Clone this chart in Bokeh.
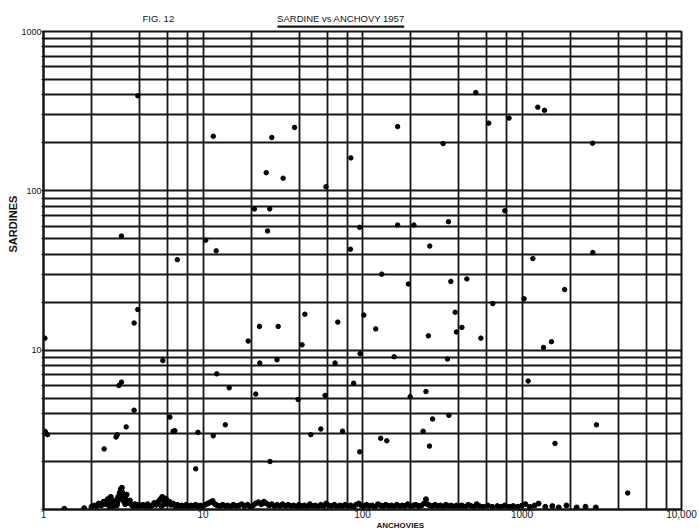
from bokeh.plotting import figure
from bokeh.models import FixedTicker, Title
from bokeh.embed import file_html
from bokeh.resources import INLINE

# ---- scattered points ----
anchovies = [3.9, 11.6, 27, 37.5, 24.9, 31.8, 59, 21, 26.2, 3.08, 25.4, 10.4, 12.1, 6.9, 84, 84.5, 96,
             3.9, 3.7, 1.02, 5.6, 3.08, 2.97, 3.7, 3.3, 2.9, 2.85, 2.4,
             1.0, 1.03, 1.06, 1.02,
             6.2, 6.5, 6.66, 9.3, 11.6, 13.8, 14.6, 12.2, 9.0, 19.2, 22.6, 29.6, 22.7, 29.1, 21.4, 26.3,
             39.5, 43.5, 41.8, 58.3, 54.8, 47.4, 70, 67.3, 75, 88, 96, 96.6,
             513, 1256, 1384, 166, 619, 830, 320, 2770, 780, 166, 210, 346, 264, 2780, 1170,
             132, 194, 358, 451, 1850, 1030, 656, 102, 121, 381, 420, 388, 259, 552, 1364, 1530,
             158, 341, 1093, 250, 199, 275, 348, 240, 130, 142, 263, 2930, 1610, 4600]
sardines = [395, 220, 216, 250, 130, 120, 106, 77, 77, 52, 56, 49, 42, 37, 43, 161, 59,
            18, 14.8, 11.9, 8.6, 6.3, 6.0, 4.2, 3.3, 2.95, 2.85, 2.4,
            3.0, 3.05, 2.95, 3.1,
            3.8, 3.1, 3.12, 3.05, 2.9, 3.4, 5.8, 7.1, 1.8, 11.4, 14.1, 14.1, 8.3, 8.7, 5.3, 2.0,
            4.9, 16.8, 10.8, 5.2, 3.2, 2.95, 15, 8.3, 3.1, 6.2, 2.3, 9.5,
            414, 335, 320, 253, 266, 286, 198, 199, 75, 61, 61, 64, 45, 41, 37.6,
            30, 26, 27, 28, 24, 21, 19.6, 16.6, 13.6, 17.3, 13.9, 13, 12.3, 11.9, 10.4, 11.3,
            9.1, 8.8, 6.4, 5.5, 5.1, 3.7, 3.9, 3.1, 2.8, 2.7, 2.5, 3.4, 2.6, 1.27]

# ---- points piled up along the bottom line ----
floor_anchovies = [
    1.35, 1.8,
    2.0, 2.08, 2.15, 2.22, 2.3, 2.38, 2.45, 2.52, 2.58, 2.64,
    2.7, 2.76, 2.82, 2.88, 2.94, 3.0, 3.05, 3.1, 3.15, 3.2,
    3.26, 3.32, 3.4, 3.48, 3.56, 3.65, 3.75, 3.85, 3.95, 4.05,
    4.2, 4.35, 4.5, 4.65, 4.8, 4.95, 5.1, 5.25, 5.4, 5.55,
    5.7, 5.85, 6.0, 6.15, 6.3, 6.5, 6.7, 6.9, 7.1, 7.35,
    7.6, 7.85, 8.1, 8.4, 8.7, 9.0, 9.3, 9.6, 9.9, 10.3,
    10.7, 11.1, 11.5, 11.9, 12.3, 12.8, 13.3, 13.8, 14.3, 14.9,
    15.5, 16.1, 16.8, 17.5, 18.2, 19, 19.8, 20.6, 21.4, 22.3,
    23.2, 24.1, 25, 26, 27, 28.1, 29.2, 30.4, 31.6, 32.9,
    34.2, 35.6, 37, 38.5, 40, 41.6, 43.3, 45, 46.8, 48.7,
    50.6, 52.6, 54.7, 56.9, 59.2, 61.6, 64, 66.6, 69.3, 72,
    74.9, 77.9, 81, 84.2, 87.6, 91.1, 94.7, 98.5, 102, 106,
    110, 115, 120, 125, 130, 135, 140, 146, 152, 158,
    164, 171, 178, 185, 192, 200, 208, 216, 225, 234,
    243, 250, 256, 264, 274, 285, 296, 308, 320, 333,
    346, 360, 374, 389, 405, 420, 440, 460, 480, 500,
    520, 540, 570, 610, 650, 700, 740, 780, 830, 880,
    940, 1000, 1050, 1120, 1200, 1270, 1400, 1550, 1700, 1900,
    2200, 2500, 2900,
    2.6, 2.75, 2.9, 3.0, 3.12, 3.25, 5.5, 5.75]
floor_sardines = [
    1.01, 1.02,
    1.04, 1.06, 1.05, 1.09, 1.06, 1.12, 1.08, 1.16, 1.1, 1.2,
    1.12, 1.08, 1.14, 1.06, 1.2, 1.27, 1.34, 1.37, 1.22, 1.12,
    1.17, 1.24, 1.1, 1.14, 1.07, 1.05, 1.08, 1.05, 1.07, 1.05,
    1.07, 1.04, 1.08, 1.05, 1.06, 1.1, 1.07, 1.12, 1.16, 1.2,
    1.13, 1.17, 1.1, 1.12, 1.07, 1.09, 1.05, 1.07, 1.04, 1.06,
    1.05, 1.07, 1.04, 1.06, 1.05, 1.07, 1.04, 1.06, 1.05, 1.07,
    1.09, 1.11, 1.13, 1.08, 1.06, 1.05, 1.07, 1.05, 1.06, 1.04,
    1.07, 1.05, 1.06, 1.08, 1.05, 1.07, 1.04, 1.06, 1.09, 1.11,
    1.08, 1.12, 1.09, 1.06, 1.08, 1.05, 1.07, 1.05, 1.08, 1.05,
    1.07, 1.05, 1.06, 1.04, 1.07, 1.05, 1.06, 1.04, 1.08, 1.05,
    1.06, 1.04, 1.07, 1.05, 1.09, 1.06, 1.05, 1.07, 1.04, 1.06,
    1.05, 1.07, 1.05, 1.06, 1.04, 1.07, 1.09, 1.06, 1.05, 1.07,
    1.05, 1.06, 1.04, 1.08, 1.06, 1.05, 1.07, 1.05, 1.06, 1.04,
    1.07, 1.05, 1.06, 1.05, 1.08, 1.05, 1.06, 1.07, 1.05, 1.06,
    1.09, 1.16, 1.08, 1.06, 1.05, 1.07, 1.05, 1.06, 1.04, 1.07,
    1.05, 1.06, 1.04, 1.06, 1.05, 1.06, 1.04, 1.07, 1.05, 1.04,
    1.08, 1.05, 1.04, 1.06, 1.04, 1.05, 1.04, 1.06, 1.04, 1.05,
    1.04, 1.06, 1.08, 1.04, 1.06, 1.09, 1.04, 1.05, 1.03, 1.06,
    1.03, 1.04, 1.03,
    1.04, 1.05, 1.1, 1.16, 1.28, 1.08, 1.05, 1.08]

x_ticks = [1, 10, 100, 1000, 10000]
x_tick_labels = ["1", "10", "100", "1000", "10,000"]
y_ticks = [1, 10, 100, 1000]
y_tick_labels = ["", "10", "100", "1000"]

fig_label = "FIG. 12"
title_text = "SARDINE vs ANCHOVY 1957"
x_title = "ANCHOVIES"
y_title = "SARDINES"

FONT = "Liberation Sans"
INK = "#151515"
NBSP = "\u00a0"

p = figure(width=699, height=531, x_axis_type="log", y_axis_type="log",
           x_range=(1, 10000), y_range=(1, 1000),
           output_backend="svg", toolbar_location=None,
           min_border_left=43, min_border_right=18, min_border_top=31, min_border_bottom=22,
           background_fill_color="white", border_fill_color="white")

# grid: every 1..9 of each decade horizontally, 2-4-6-8-10 vertically
p.xgrid.ticker = FixedTicker(ticks=[d * m for d in (1, 10, 100, 1000) for m in (2, 4, 6, 8, 10)])
p.ygrid.ticker = FixedTicker(ticks=[d * m for d in (1, 10, 100) for m in range(1, 11)])
for g in (p.xgrid, p.ygrid):
    g.grid_line_color = INK
    g.grid_line_width = 1.8
    g.grid_line_alpha = 1.0

p.outline_line_color = INK
p.outline_line_width = 2
p.outline_line_alpha = 1.0

p.xaxis.ticker = FixedTicker(ticks=x_ticks)
p.xaxis.major_label_overrides = dict(zip(x_ticks, x_tick_labels))
p.yaxis.ticker = FixedTicker(ticks=y_ticks,
                             minor_ticks=[d * m for d in (1, 10, 100) for m in range(2, 10)])
p.yaxis.major_label_overrides = dict(zip(y_ticks, y_tick_labels))

for ax in (p.xaxis, p.yaxis):
    ax.axis_line_color = INK
    ax.axis_line_width = 2
    ax.major_tick_line_color = INK
    ax.major_tick_line_width = 1.5
    ax.minor_tick_line_color = INK
    ax.major_tick_in = 0
    ax.minor_tick_in = 0
    ax.major_label_text_font = FONT
    ax.major_label_text_color = INK
p.xaxis.major_label_text_font_size = "10px"
p.yaxis.major_label_text_font_size = "9px"
p.xaxis.major_tick_out = 0
p.xaxis.minor_tick_out = 0
p.xaxis.major_label_standoff = 0
p.yaxis.major_tick_out = 2
p.yaxis.minor_tick_out = 2
p.yaxis.major_label_standoff = 0

p.scatter(floor_anchovies, floor_sardines, marker="circle", size=5, color="black")
p.scatter(anchovies, sardines, marker="circle", size=4.5, color="black")

# underline of the title (closest to the frame), then the heading line
p.add_layout(Title(text=NBSP * 228, text_font=FONT, text_font_size="2px",
                   background_fill_color=INK, align="left", offset=234,
                   standoff=4, vertical_align="top"), "above")
p.add_layout(Title(text=fig_label + NBSP * 39 + title_text, text_font=FONT,
                   text_font_size="9.5px", text_font_style="normal", text_color=INK,
                   align="left", offset=99, standoff=0, vertical_align="bottom"), "above")
p.add_layout(Title(text=y_title, text_font=FONT, text_font_size="11px", text_font_style="bold",
                   text_color=INK, align="left", offset=257, standoff=0), "left")
p.add_layout(Title(text=x_title, text_font=FONT, text_font_size="8px", text_font_style="bold",
                   text_color=INK, align="left", offset=333, standoff=0,
                   vertical_align="top"), "below")

open("out.html", "w").write(file_html(p, INLINE))
